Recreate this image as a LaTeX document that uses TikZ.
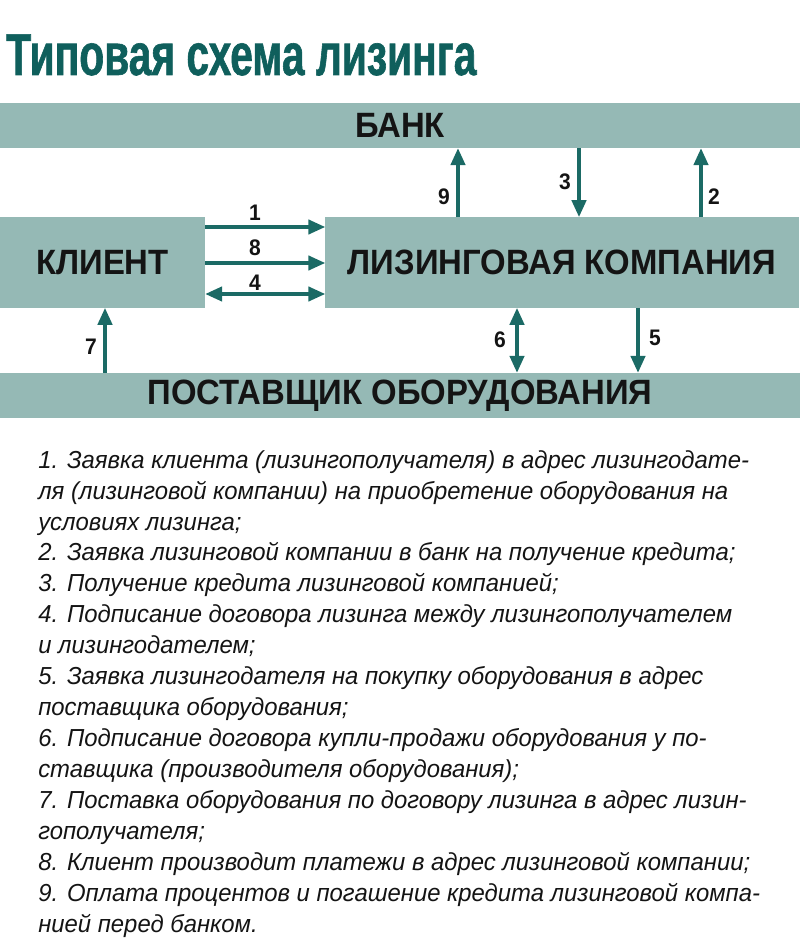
\documentclass[tikz,border=0pt]{standalone}
\usepackage{fontspec}
\setmainfont{Liberation Sans}
\newfontfamily\titlefont[FakeStretch=0.69, FakeBold=1]{Liberation Sans}
\newfontfamily\boxfont[FakeStretch=0.935]{Liberation Sans}
\newfontfamily\listfont[FakeStretch=0.97]{Liberation Sans}
\usetikzlibrary{arrows.meta, positioning}
\definecolor{barteal}{HTML}{95B9B5}
\definecolor{darkteal}{HTML}{0F5F5C}
\definecolor{arrowteal}{HTML}{1B6A65}

\begin{document}
\begin{tikzpicture}[
    x=0.025cm, y=-0.025cm,
    bar/.style={fill=barteal, inner sep=0, minimum width=20cm, minimum height=1.125cm, text=black!92, font=\boxfont\bfseries\fontsize{25}{28}\selectfont},
    box/.style={fill=barteal, inner sep=0, minimum height=2.26cm, text=black!92, font=\boxfont\bfseries\fontsize{25}{28}\selectfont},
    arrow/.style={-{Triangle[length=0.42cm, width=0.36cm]}, line width=2.2pt, draw=arrowteal},
    twoway/.style={{Triangle[length=0.42cm, width=0.36cm]}-{Triangle[length=0.42cm, width=0.36cm]}, line width=2.2pt, draw=arrowteal},
    num/.style={inner sep=0, text=black!92, font=\boxfont\bfseries\fontsize{16}{18}\selectfont}
]
    \useasboundingbox (0,0) rectangle (800,944);

    \node (title) [anchor=base west, inner sep=0, text=darkteal, font=\titlefont\bfseries\fontsize{42}{46}\selectfont] at (6,75) {Типовая схема лизинга};

    \node (bank) [bar] at (400,125.5) {БАНК};
    \node (client) [box, minimum width=5.125cm] at (102.5,262.5) {КЛИЕНТ};
    \node (lk) [box, minimum width=11.825cm] at (562,262.5) {ЛИЗИНГОВАЯ КОМПАНИЯ};
    \node (supplier) [bar] at (400,395.5) {ПОСТАВЩИК ОБОРУДОВАНИЯ};

    % arrow positions
    \coordinate (y1) at (0,227);
    \coordinate (y8) at (0,263);
    \coordinate (y4) at (0,294);
    \coordinate (x9) at (458,0);
    \coordinate (x3) at (579,0);
    \coordinate (x2) at (701,0);
    \coordinate (x7) at (105,0);
    \coordinate (x6) at (517,0);
    \coordinate (x5) at (638,0);

    \draw [arrow] (client.east |- y1) -- (lk.west |- y1);
    \draw [arrow] (client.east |- y8) -- (lk.west |- y8);
    \draw [twoway] (client.east |- y4) -- (lk.west |- y4);
    \draw [arrow] (lk.north -| x9) -- (bank.south -| x9);
    \draw [arrow] (bank.south -| x3) -- (lk.north -| x3);
    \draw [arrow] (lk.north -| x2) -- (bank.south -| x2);
    \draw [arrow] (supplier.north -| x7) -- (client.south -| x7);
    \draw [twoway] (lk.south -| x6) -- (supplier.north -| x6);
    \draw [arrow] (lk.south -| x5) -- (supplier.north -| x5);

    \node (n1) [num] at (255,213) {1};
    \node (n8) [num] at (255,248) {8};
    \node (n4) [num] at (255,283) {4};
    \node (n9) [num] at (444,197) {9};
    \node (n3) [num] at (565,182) {3};
    \node (n2) [num] at (714,197) {2};
    \node (n7) [num] at (91,347) {7};
    \node (n6) [num] at (500,340) {6};
    \node (n5) [num] at (655,338) {5};

    \node (legend) [anchor=north west, inner sep=0, align=left, text=black!92, font=\listfont\itshape\fontsize{17.5}{22}\selectfont] at (38,450) {%
1. Заявка клиента (лизингополучателя) в адрес лизингодате-\\
ля (лизинговой компании) на приобретение оборудования на\\
условиях лизинга;\\
2. Заявка лизинговой компании в банк на получение кредита;\\
3. Получение кредита лизинговой компанией;\\
4. Подписание договора лизинга между лизингополучателем\\
и лизингодателем;\\
5. Заявка лизингодателя на покупку оборудования в адрес\\
поставщика оборудования;\\
6. Подписание договора купли-продажи оборудования у по-\\
ставщика (производителя оборудования);\\
7. Поставка оборудования по договору лизинга в адрес лизин-\\
гополучателя;\\
8. Клиент производит платежи в адрес лизинговой компании;\\
9. Оплата процентов и погашение кредита лизинговой компа-\\
нией перед банком.};
\end{tikzpicture}
\end{document}
